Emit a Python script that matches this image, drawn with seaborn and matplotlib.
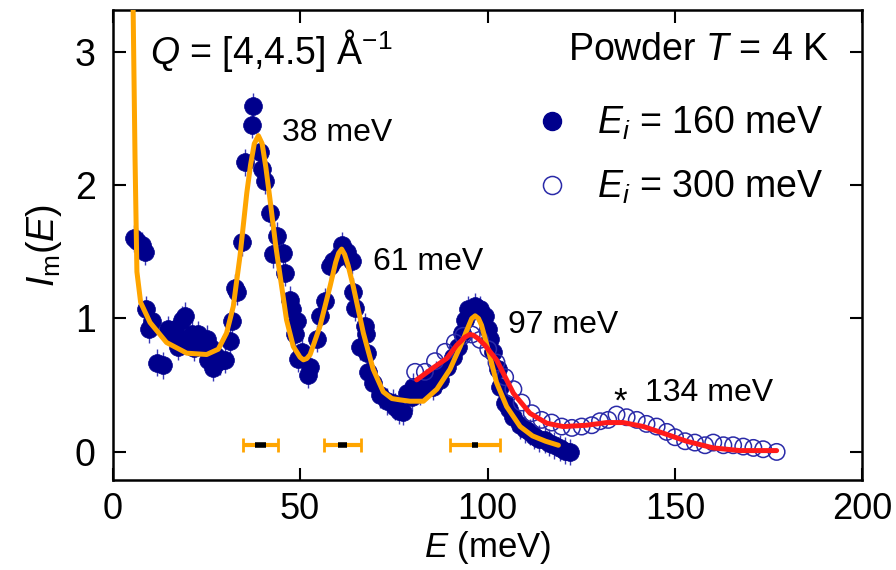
import matplotlib
matplotlib.use("Agg")
import matplotlib.pyplot as plt
import seaborn as sns
import pandas as pd
from matplotlib.lines import Line2D

# ---------------- data ----------------
E_160 = [5.6, 6.5, 7.8, 8.7, 8.9, 9.6, 10.5, 11.8, 13.5, 14.8, 15.8, 16.7, 17.5, 18.4, 18.9,
         19.3, 20.2, 21.1, 21.8, 22.9, 23.8, 25.1, 25.5, 26.2, 26.8, 27.6, 28.7, 30.0, 31.3,
         31.8, 32.7, 33.1, 34.4, 35.3, 37.1, 37.5, 39.3, 39.8, 40.7, 42.0, 42.9, 43.8, 45.5,
         46.0, 47.3, 47.8, 48.7, 49.1, 49.5, 50.5, 52.2, 52.7, 54.4, 55.3, 56.7, 58.0, 58.9,
         60.2, 61.1, 62.4, 63.8, 64.2, 64.7, 66.0, 67.3, 67.5, 67.8, 68.2, 69.5, 71.3, 73.1,
         74.9, 75.3, 76.4, 77.5, 78.4, 79.8, 80.2, 82.0, 83.5, 85.5, 86.3, 87.3, 89.1, 90.9,
         92.2, 93.1, 94.0, 94.9, 96.7, 98.0, 99.3, 100.2, 100.7, 101.5, 102.9, 103.3, 104.7,
         105.8, 106.9, 108.7, 110.0, 111.3, 112.5, 113.8, 115.3, 116.5, 117.8, 119.2, 120.7, 122.0]
I_160 = [1.60, 1.58, 1.55, 1.50, 1.07, 0.92, 0.98, 0.67, 0.65, 0.92, 0.88, 0.92, 0.79, 0.99, 0.84,
         1.02, 0.83, 0.88, 0.78, 0.88, 0.80, 0.85, 0.69, 0.78, 0.63, 0.72, 0.68, 0.69, 0.83,
         0.98, 1.23, 1.20, 1.57, 2.17, 2.45, 2.59, 2.25, 2.12, 2.03, 1.79, 1.48, 1.62, 1.49,
         1.34, 1.14, 1.07, 0.88, 0.98, 0.70, 0.75, 0.58, 0.64, 0.85, 1.02, 1.13, 1.39, 1.43,
         1.46, 1.55, 1.50, 1.43, 1.20, 1.08, 0.79, 0.94, 0.88, 0.74, 0.60, 0.52, 0.43, 0.38,
         0.37, 0.34, 0.31, 0.30, 0.44, 0.41, 0.49, 0.45, 0.52, 0.49, 0.58, 0.54, 0.64, 0.71,
         0.79, 0.89, 0.99, 1.07, 1.09, 1.07, 1.02, 0.92, 0.85, 0.75, 0.62, 0.49, 0.37,
         0.32, 0.26, 0.20, 0.17, 0.15, 0.12, 0.10, 0.09, 0.07, 0.05, 0.03, 0.01, 0.00]
err_160 = 0.10

E_300 = [80.7, 83.3, 86.0, 88.7, 91.3, 93.5, 95.8, 98.0, 100.2, 102.4, 104.7, 106.9, 109.1,
         111.8, 114.4, 117.1, 119.8, 122.5, 125.1, 127.8, 130.0, 132.2, 134.4, 137.1, 139.8,
         142.4, 145.1, 147.8, 150.0, 152.7, 155.3, 158.0, 160.2, 162.9, 165.5, 168.2, 170.9,
         173.5, 177.1]
I_300 = [0.60, 0.60, 0.68, 0.75, 0.82, 0.87, 0.88, 0.84, 0.77, 0.67, 0.56, 0.47, 0.37,
         0.29, 0.24, 0.22, 0.19, 0.18, 0.19, 0.20, 0.23, 0.24, 0.28, 0.26, 0.24,
         0.21, 0.19, 0.15, 0.11, 0.08, 0.07, 0.05, 0.07, 0.05, 0.05, 0.04, 0.03,
         0.02, 0.00]

fit160_E = [5.2, 5.5, 6.0, 6.5, 7.5, 10.0, 14.4, 19.8, 25.1, 28.2, 30.4, 32.2, 34.0, 35.8,
            36.8, 37.8, 38.9, 39.9, 40.9, 42.0, 43.5, 45.1, 46.4, 48.2, 50.0, 50.9, 51.8,
            52.7, 55.3, 58.0, 59.5, 60.3, 61.1, 61.9, 62.8, 64.2, 66.9, 69.5, 72.2, 74.5,
            76.7, 79.3, 82.9, 86.5, 90.0, 92.7, 94.9, 95.8, 96.7, 97.6, 98.4, 100.7,
            102.4, 105.1, 108.7, 112.0, 115.5, 118.9]
fit160_I = [4.0, 3.3, 2.2, 1.35, 1.12, 0.97, 0.82, 0.74, 0.73, 0.77, 0.89, 1.09, 1.47, 1.94,
            2.15, 2.31, 2.37, 2.31, 2.13, 1.89, 1.55, 1.24, 0.99, 0.79, 0.71, 0.69, 0.70,
            0.73, 0.94, 1.24, 1.42, 1.49, 1.52, 1.48, 1.40, 1.24, 0.89, 0.62, 0.45, 0.40,
            0.39, 0.38, 0.38, 0.47, 0.62, 0.79, 0.94, 1.00, 1.02, 1.00, 0.95, 0.71,
            0.52, 0.34, 0.19, 0.12, 0.08, 0.05]

fit300_E = [81.1, 85.5, 89.1, 91.8, 94.0, 95.3, 96.2, 97.5, 99.3, 102.4, 105.1, 106.9,
            111.3, 115.8, 120.2, 126.4, 131.8, 136.2, 141.6, 146.9, 153.1, 160.2, 167.3,
            172.0, 177.1]
fit300_I = [0.54, 0.63, 0.70, 0.80, 0.86, 0.88, 0.875, 0.85, 0.80, 0.69, 0.54, 0.44,
            0.29, 0.215, 0.19, 0.20, 0.22, 0.22, 0.19, 0.14, 0.08, 0.03, 0.01,
            0.01, 0.01]

res_center = [39.4, 61.3, 96.7]
res_half_300 = [4.6, 5.0, 6.7]
res_half_160 = [1.5, 1.3, 0.8]
res_level = 0.05

peak_labels = ["38 meV", "61 meV", "97 meV", "134 meV"]

# ---------------- style ----------------
sns.set_theme(style="ticks")
plt.rcParams['font.family'] = ['Liberation Sans', 'DejaVu Sans']
plt.rcParams['mathtext.fontset'] = 'custom'
plt.rcParams['mathtext.rm'] = 'Liberation Sans'
plt.rcParams['mathtext.it'] = 'Liberation Sans:italic'
plt.rcParams['mathtext.bf'] = 'Liberation Sans:bold'
plt.rcParams['text.color'] = 'black'
plt.rcParams['axes.labelcolor'] = 'black'

NAVY = '#00008c'
OPEN = '#2a2aa8'
ORANGE = '#ffa500'
RED = '#ff1a1a'

fig = plt.figure(figsize=(8.96, 5.70), dpi=100)
ax = fig.add_axes([0.1256, 0.158, 0.837, 0.824])

df160 = pd.DataFrame({"E": E_160, "I": I_160})
df300 = pd.DataFrame({"E": E_300, "I": I_300})
dfit160 = pd.DataFrame({"E": fit160_E, "I": fit160_I})
dfit300 = pd.DataFrame({"E": fit300_E, "I": fit300_I})

ax.errorbar(df160["E"], df160["I"], yerr=err_160, fmt='none', ecolor='#3a3ab8',
            elinewidth=1.0, zorder=2)
sns.scatterplot(data=df160, x="E", y="I", ax=ax, s=165, color=NAVY, edgecolor=NAVY,
                linewidth=0.5, zorder=3, legend=False)
sns.scatterplot(data=df300, x="E", y="I", ax=ax, s=140, facecolor='none', edgecolor=OPEN,
                linewidth=1.1, zorder=4, legend=False)
sns.lineplot(data=dfit160, x="E", y="I", ax=ax, color=ORANGE, lw=3.6, zorder=5,
             sort=False, estimator=None)
sns.lineplot(data=dfit300, x="E", y="I", ax=ax, color=RED, lw=3.6, zorder=6,
             sort=False, estimator=None)

# resolution bars
ax.errorbar(res_center, [res_level]*3, xerr=res_half_300, fmt='none', ecolor=ORANGE,
            elinewidth=3, capsize=5, capthick=2, zorder=5)
ax.errorbar(res_center, [res_level]*3, xerr=res_half_160, fmt='none', ecolor='black',
            elinewidth=4, capsize=0, zorder=6)

ax.set_xlim(0, 200)
ax.set_ylim(-0.21, 3.31)
ax.set_xticks([0, 50, 100, 150, 200])
ax.set_yticks([0, 1, 2, 3])
ax.tick_params(direction='in', length=9, width=1.5, top=True, right=True,
               labelsize=27, pad=12, colors='black')
ax.tick_params(axis='x', pad=9, labelsize=26)
for sp in ax.spines.values():
    sp.set_linewidth(1.8)
    sp.set_color('black')

ax.set_xlabel(r"$E$ (meV)", fontsize=25, labelpad=1)
ax.set_ylabel(r"$I_\mathrm{m}(E)$", fontsize=27, labelpad=8)

ax.text(0.05, 0.915, r"$Q$ = [4,4.5] Å$^{-1}$", transform=ax.transAxes, fontsize=27,
        ha='left', va='center')
ax.text(0.955, 0.915, r"Powder $T$ = 4 K", transform=ax.transAxes, fontsize=27,
        ha='right', va='center')

ax.text(45.2, 2.39, peak_labels[0], fontsize=23, ha='left', va='center')
ax.text(69.5, 1.42, peak_labels[1], fontsize=23, ha='left', va='center')
ax.text(105.5, 0.95, peak_labels[2], fontsize=23, ha='left', va='center')
ax.text(142.0, 0.44, peak_labels[3], fontsize=23, ha='left', va='center')
ax.text(135.3, 0.37, "*", fontsize=25, ha='center', va='center')

handles = [Line2D([], [], ls='none', marker='o', ms=13, color=NAVY, mec=NAVY),
           Line2D([], [], ls='none', marker='o', ms=13, mfc='none', mec=OPEN, mew=1.1)]
ax.legend(handles, [r"$E_i$ = 160 meV", r"$E_i$ = 300 meV"], loc='upper right',
          bbox_to_anchor=(0.968, 0.83), frameon=False, fontsize=27, handlelength=1.0,
          handletextpad=0.7, labelspacing=0.7, borderaxespad=0)

fig.savefig("out.png", dpi=100)
